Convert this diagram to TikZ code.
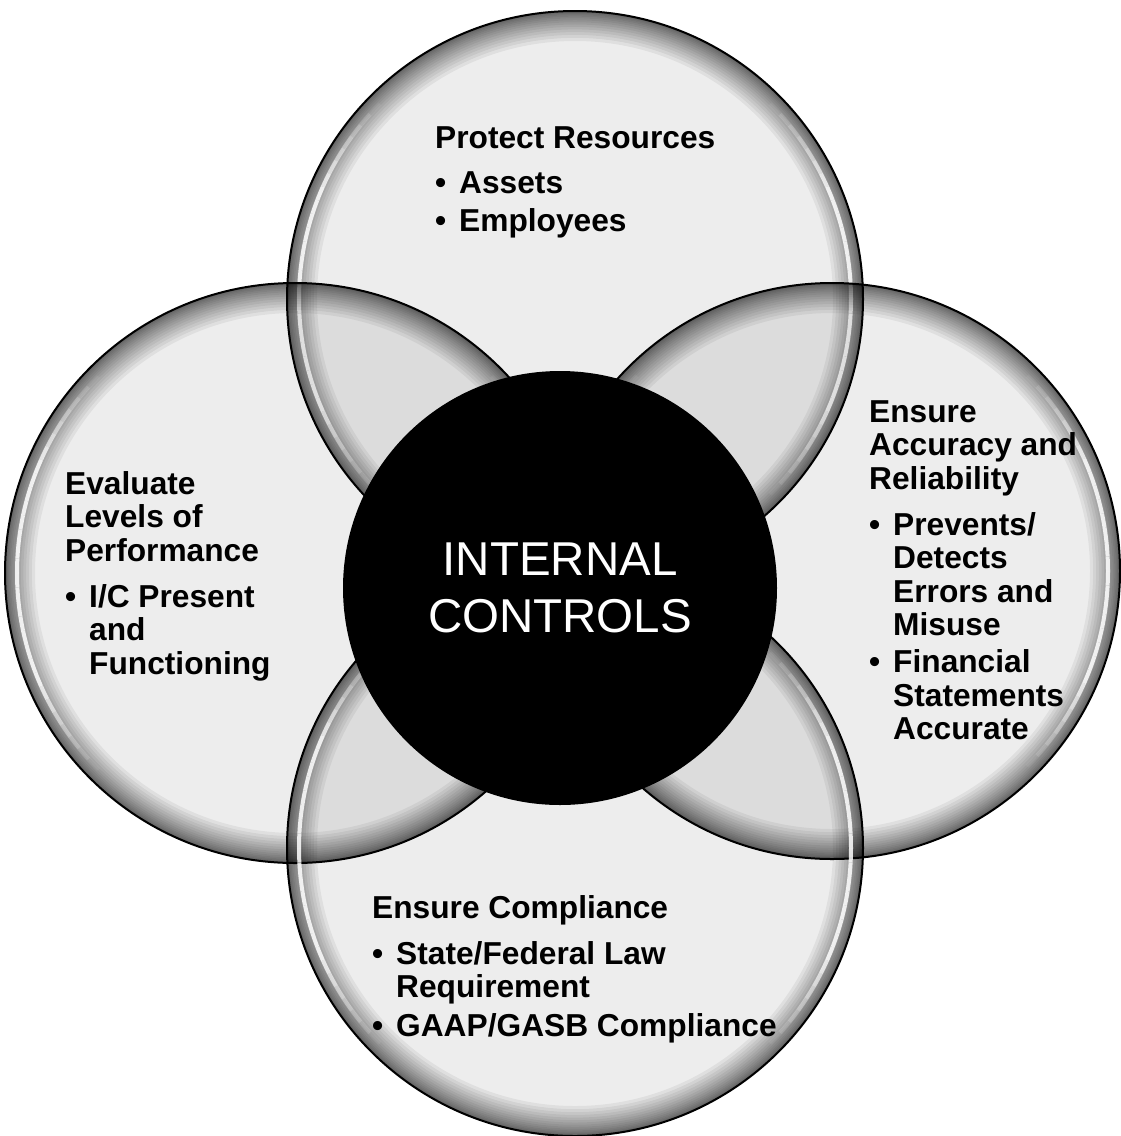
\documentclass[tikz,border=0pt]{standalone}
\usepackage{fontspec}
\setmainfont{Liberation Sans}

\newcommand\textblock[1]{\begin{minipage}[t]{420pt}\raggedright\bfseries
  \fontsize{31.7}{33.5}\selectfont #1\end{minipage}}
\newcommand\bulletline[1]{\makebox[24pt][l]{\textbullet}#1}
\newcommand\contline[1]{\hspace*{24pt}#1}

\tikzset{
  glassbody/.style={fill=black, fill opacity=0.07},
  glassband/.style={fill=black, fill opacity=0.055, even odd rule},
  glassedge/.style={draw=black, line width=2pt},
  glintline/.style={draw=white, line width=4pt, line cap=butt},
  bodytext/.style={anchor=base west, inner sep=0pt},
  corecircle/.style={circle, fill=black, minimum size=434pt, inner sep=0pt,
    text=white, align=center, font=\fontsize{47.5}{57}\selectfont},
}

\begin{document}
\begin{tikzpicture}[x=1pt, y=-1pt]
  \fill[white] (0,0) rectangle (1120,1136);
  \useasboundingbox (0,0) rectangle (1120,1136);

  % four translucent glass discs with a darker rim
  \foreach \n/\cx/\cy/\r in {top/575/299/288, left/295/573/290,
                             right/832/571/288, bottom/575/848/288} {
    \coordinate (\n) at (\cx,\cy);
    \fill[glassbody] (\n) circle (\r);
    \foreach \k in {1,...,16} {
      \pgfmathsetmacro\ri{\r-30*(\k/16)^1.7}
      \fill[glassband] (\n) circle (\r) circle (\ri);
    }
    \draw[glassedge] (\n) circle (\r);
    % side glints, fading out towards both ends
    \pgfmathsetmacro\rr{\r-12}
    \foreach \a in {135,138,...,222} {
      \pgfmathsetmacro\op{0.85*min(1,max(0,(45-abs(\a+1.5-180))/22))}
      \draw[glintline, draw opacity=\op, shift={(\cx,\cy)}]
        (\a:\rr) arc[start angle=\a, end angle=\a+3, radius=\rr];
    }
    \foreach \a in {-45,-42,...,42} {
      \pgfmathsetmacro\op{0.85*min(1,max(0,(45-abs(\a+1.5))/22))}
      \draw[glintline, draw opacity=\op, shift={(\cx,\cy)}]
        (\a:\rr) arc[start angle=\a, end angle=\a+3, radius=\rr];
    }
  }

  % central disc
  \node[corecircle] (core) at (560,588) {INTERNAL\\CONTROLS};

  % texts of the four discs
  \node[bodytext] (protect) at (435,148) {\textblock{%
    Protect Resources\\[11.5pt]
    \bulletline{Assets}\\[4.5pt]
    \bulletline{Employees}}};

  \node[bodytext] (evaluate) at (65,494) {\textblock{%
    Evaluate\\
    Levels of\\
    Performance\\[12.5pt]
    \bulletline{I/C Present}\\
    \contline{and}\\
    \contline{Functioning}}};

  \node[bodytext] (accuracy) at (869,422) {\textblock{%
    Ensure\\
    Accuracy and\\
    Reliability\\[12.5pt]
    \bulletline{Prevents/}\\
    \contline{Detects}\\
    \contline{Errors and}\\
    \contline{Misuse}\\[3.5pt]
    \bulletline{Financial}\\
    \contline{Statements}\\
    \contline{Accurate}}};

  \node[bodytext] (compliance) at (372,918) {\textblock{%
    Ensure Compliance\\[12.5pt]
    \bulletline{State/Federal Law}\\
    \contline{Requirement}\\[5.5pt]
    \bulletline{GAAP/GASB Compliance}}};
\end{tikzpicture}
\end{document}
